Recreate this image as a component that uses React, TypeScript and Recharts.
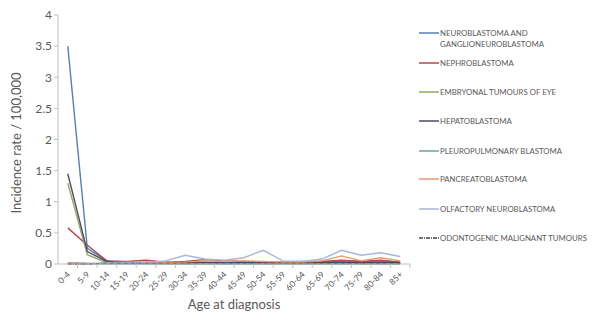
import React from "react";
import { LineChart, Line, XAxis, YAxis } from "recharts";

const ages = ["0-4","5-9","10-14","15-19","20-24","25-29","30-34","35-39","40-44","45-49","50-54","55-59","60-64","65-69","70-74","75-79","80-84","85+"];
const neuroblastoma = [3.5, 0.25, 0.05, 0.02, 0.01, 0.01, 0.02, 0.03, 0.02, 0.03, 0.03, 0.02, 0.02, 0.03, 0.05, 0.04, 0.05, 0.03];
const nephroblastoma = [0.58, 0.3, 0.05, 0.04, 0.06, 0.03, 0.04, 0.07, 0.05, 0.04, 0.03, 0.03, 0.04, 0.04, 0.06, 0.04, 0.06, 0.03];
const embryonal = [1.3, 0.15, 0.02, 0.01, 0.01, 0, 0, 0, 0, 0, 0, 0, 0, 0, 0, 0, 0, 0];
const hepatoblastoma = [1.45, 0.2, 0.04, 0.02, 0.01, 0.01, 0.02, 0.02, 0.02, 0.02, 0.02, 0.01, 0.02, 0.02, 0.03, 0.02, 0.03, 0.02];
const pleuropulmonary = [0.02, 0.01, 0, 0, 0, 0, 0, 0, 0, 0, 0, 0, 0, 0, 0, 0, 0, 0];
const pancreatoblastoma = [0.02, 0.01, 0.01, 0.02, 0.03, 0.02, 0.03, 0.05, 0.04, 0.05, 0.04, 0.03, 0.03, 0.05, 0.13, 0.05, 0.1, 0.05];
const olfactory = [0, 0, 0.02, 0.03, 0.02, 0.05, 0.14, 0.08, 0.06, 0.1, 0.22, 0.05, 0.04, 0.08, 0.22, 0.14, 0.18, 0.12];
const odontogenic = [0, 0, 0.01, 0.01, 0.01, 0.01, 0.01, 0.02, 0.01, 0.01, 0.01, 0.01, 0.01, 0.01, 0.01, 0.01, 0.01, 0.01];
const yTicks = [0, 0.5, 1, 1.5, 2, 2.5, 3, 3.5, 4];

const seriesDefs = [
  { key: "neuro", name: ["NEUROBLASTOMA AND", "GANGLIONEUROBLASTOMA"], values: neuroblastoma, color: "#5580b5", dash: undefined },
  { key: "nephro", name: ["NEPHROBLASTOMA"], values: nephroblastoma, color: "#b5484a", dash: undefined },
  { key: "embryonal", name: ["EMBRYONAL TUMOURS OF EYE"], values: embryonal, color: "#93a865", dash: undefined },
  { key: "hepato", name: ["HEPATOBLASTOMA"], values: hepatoblastoma, color: "#4e4c66", dash: undefined },
  { key: "pleuro", name: ["PLEUROPULMONARY BLASTOMA"], values: pleuropulmonary, color: "#6aa2aa", dash: undefined },
  { key: "pancreato", name: ["PANCREATOBLASTOMA"], values: pancreatoblastoma, color: "#e39b6c", dash: undefined },
  { key: "olfactory", name: ["OLFACTORY NEUROBLASTOMA"], values: olfactory, color: "#a9b6dc", dash: undefined },
  { key: "odonto", name: ["ODONTOGENIC MALIGNANT TUMOURS"], values: odontogenic, color: "#40405a", dash: "4 1 1 1" },
];

const data = ages.map((age, i) => {
  const row: Record<string, any> = { age };
  seriesDefs.forEach((s) => (row[s.key] = s.values[i]));
  return row;
});

const FONT = "Lato, 'Open Sans', sans-serif";
const GRAY = "#595959";
const AXIS = "#c0c0c0";
const BAND = (410 - 58) / ages.length;
const LEGEND_TOPS = [0, 30, 59, 88, 118, 146, 176, 205];

const XTick = (props: any) => {
  const { x, y, payload } = props;
  return (
    <g>
      <line x1={x + BAND / 2} y1={y - 8} x2={x + BAND / 2} y2={y - 4} stroke={AXIS} />
      <text
        x={x + 3}
        y={y + 3}
        transform={`rotate(-45 ${x + 3} ${y + 3})`}
        textAnchor="end"
        fontSize={8.5}
        fill={GRAY}
        fontFamily={FONT}
      >
        {payload.value}
      </text>
    </g>
  );
};

const LegendBox = () => (
  <div style={{ position: "absolute", left: 418, top: 28, fontFamily: FONT, fontSize: 7.8, color: GRAY, lineHeight: "11px" }}>
    {seriesDefs.map((s, i) => (
      <div key={s.key} style={{ position: "absolute", left: 0, top: LEGEND_TOPS[i], display: "flex" }}>
        <svg width={22} height={10} style={{ flex: "none" }}>
          <line x1={1} y1={5} x2={21} y2={5} stroke={s.color} strokeWidth={1.5} strokeDasharray={s.dash} />
        </svg>
        <div style={{ whiteSpace: "nowrap" }}>
          {s.name.map((n) => (
            <div key={n}>{n}</div>
          ))}
        </div>
      </div>
    ))}
  </div>
);

export default function App() {
  return (
    <div style={{ position: "absolute", left: 0, top: 0, width: 597, height: 321, background: "#fff", overflow: "hidden" }}>
      <LineChart width={597} height={321} data={data} margin={{ top: 15, right: 187, bottom: 0, left: 0 }}>
        <XAxis
          dataKey="age"
          scale="band"
          interval={0}
          tickLine={false}
          stroke={AXIS}
          height={57}
          tick={<XTick />}
          label={{ value: "Age at diagnosis", position: "insideBottom", offset: 12, fontSize: 13, fill: GRAY, fontFamily: FONT }}
        />
        <YAxis
          domain={[0, 4]}
          ticks={yTicks}
          interval={0}
          width={58}
          stroke={AXIS}
          tickSize={4}
          tick={{ fontSize: 12, fill: GRAY, fontFamily: FONT }}
          label={{ value: "Incidence rate / 100,000", angle: -90, position: "insideLeft", offset: 16, dy: 74, fontSize: 13, fill: GRAY, fontFamily: FONT }}
        />
        {seriesDefs.map((s) => (
          <Line
            key={s.key}
            dataKey={s.key}
            name={s.name.join(" ")}
            stroke={s.color}
            strokeWidth={1.4}
            strokeDasharray={s.dash}
            dot={false}
            isAnimationActive={false}
          />
        ))}
      </LineChart>
      <LegendBox />
    </div>
  );
}
